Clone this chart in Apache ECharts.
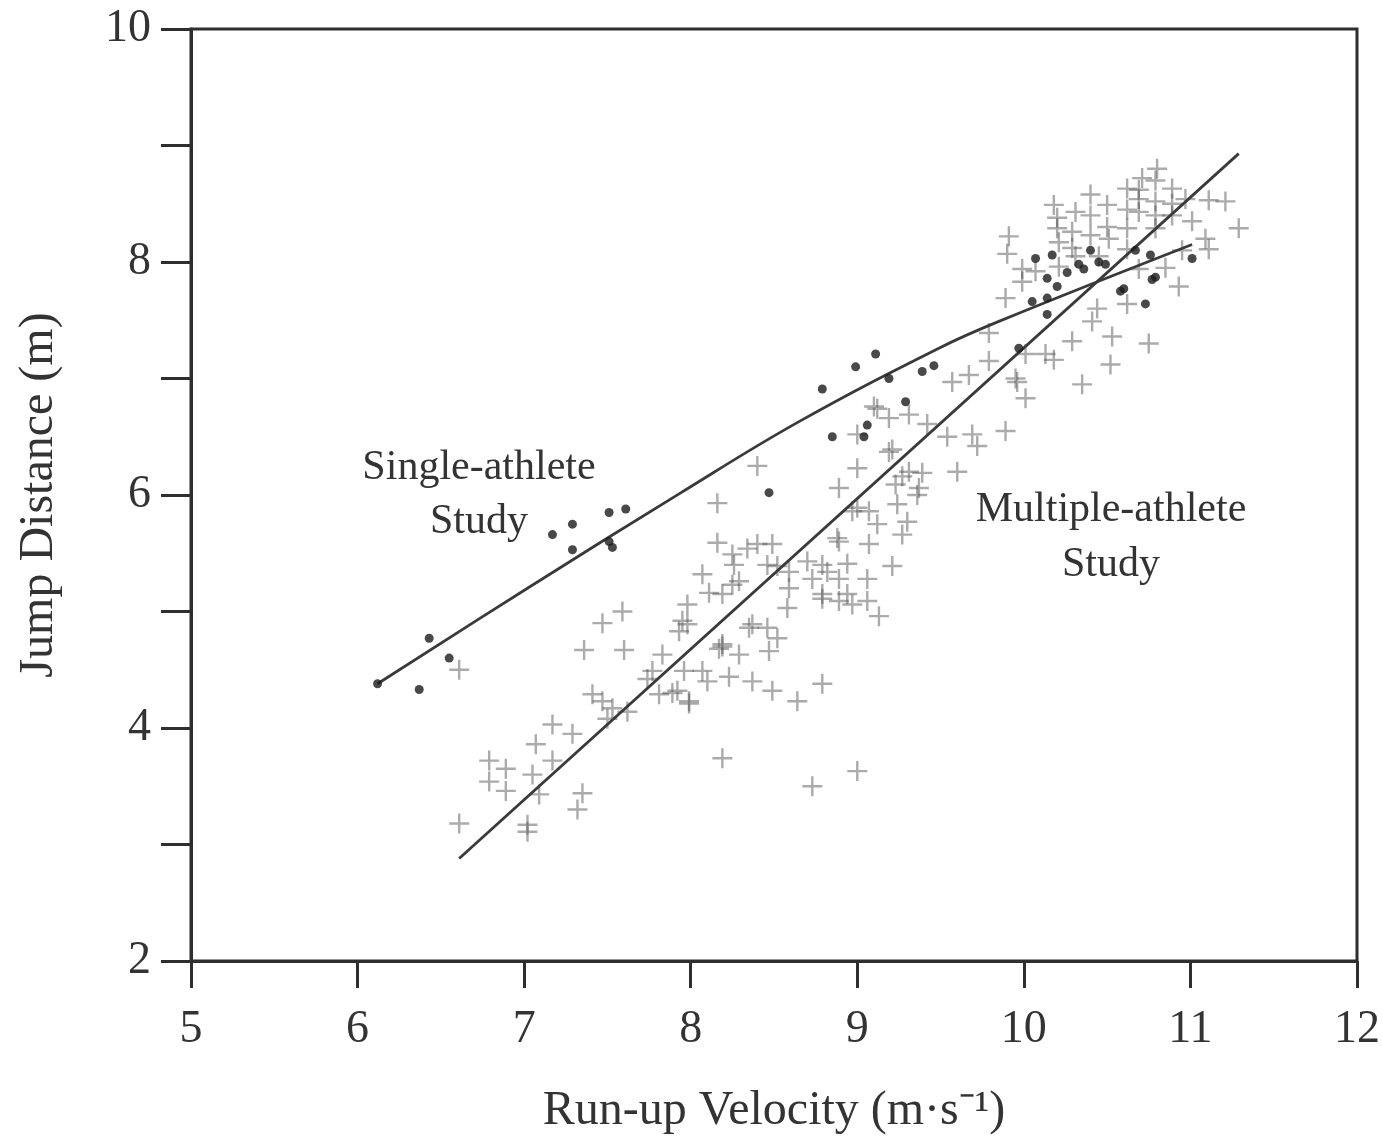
<!DOCTYPE html>
<html>
<head>
<meta charset="utf-8">
<script src="https://cdn.jsdelivr.net/npm/echarts@6/dist/echarts.min.js"></script>
<style>
  html, body { margin: 0; background: #fff; }
  #chart { width: 1383px; height: 1141px; }
</style>
</head>
<body>
<div id="chart"></div>
<script>
// single-athlete study (dots)
var singleX = [6.12, 6.37, 6.43, 6.55, 7.17, 7.29, 7.29, 7.51, 7.61, 7.51, 7.53, 8.47, 8.79, 8.99, 9.11,
  8.85, 9.04, 9.06, 9.19, 9.39, 9.46, 9.29, 9.97, 10.07, 10.17, 10.40, 10.33, 10.36, 10.45, 10.49,
  10.26, 10.14, 10.20, 10.05, 10.14, 10.14, 10.67, 10.76, 11.01, 10.77, 10.79, 10.58, 10.60, 10.73];
var singleY = [4.38, 4.33, 4.77, 4.60, 5.66, 5.75, 5.53, 5.85, 5.88, 5.60, 5.55, 6.02, 6.91, 7.10, 7.21,
  6.50, 6.50, 6.60, 7.00, 7.06, 7.11, 6.80, 7.26, 8.03, 8.06, 8.10, 7.98, 7.94, 8.00, 7.98,
  7.91, 7.86, 7.79, 7.66, 7.69, 7.55, 8.10, 8.06, 8.03, 7.85, 7.87, 7.75, 7.77, 7.64];

// multiple-athlete study (crosses)
var multiX = [6.61, 6.61, 6.79, 6.89, 6.79, 6.89, 7.05, 7.09, 7.02, 7.02, 7.07, 7.17, 7.17, 7.29, 7.35,
  7.32, 7.41, 7.47, 7.53, 7.50, 7.62, 7.36, 7.47, 7.59, 7.60, 7.74, 7.77, 7.83, 7.81, 7.89,
  7.99, 7.96, 7.93, 7.98, 7.98, 7.92, 7.99, 8.07, 8.10, 8.23, 8.19, 8.07, 8.11, 8.25, 8.19,
  8.73, 9.00,
  8.40, 8.16, 8.16, 8.40, 8.49, 8.25, 8.29, 8.19, 8.52, 8.59, 8.59, 7.95, 8.46, 8.35,
  8.52, 8.19, 8.29, 8.47, 8.17, 8.37, 8.49, 8.64, 8.79, 8.58, 8.70, 8.73, 8.79, 8.82, 8.89,
  8.89, 8.94, 8.94, 9.06, 9.06, 9.13, 9.21, 8.88, 9.07, 8.97, 9.07, 9.12, 9.27, 9.30, 9.24,
  8.89, 9.00, 9.00, 9.19, 9.10, 9.19, 9.27, 9.39, 9.37, 9.42, 9.54, 9.60, 9.31, 9.21, 9.31,
  9.23, 9.69, 9.89, 9.72, 9.57, 9.67, 9.79, 9.79, 9.96, 10.01, 10.01,
  8.34, 8.26, 8.46, 8.79, 8.89, 9.00, 8.79, 8.97, 8.37, 9.36, 9.12,
  10.80, 10.71, 10.89, 10.62, 10.40, 10.18, 10.50, 10.69, 10.79, 10.97, 11.11, 11.21, 10.31, 10.69, 10.89,
  11.01, 11.29, 9.91, 10.20, 10.29, 10.40, 10.51, 10.62, 10.79, 11.09, 11.11, 9.90, 10.21, 10.62, 9.99,
  10.07, 10.21, 9.99, 9.89, 10.93, 10.69, 10.62, 10.44, 10.41, 10.53, 10.29, 10.75, 10.13, 10.18, 10.52,
  10.35, 9.95,
  10.20, 10.29, 10.40, 10.62, 10.69, 10.79, 10.79, 10.89, 10.50, 10.31, 10.45, 10.95, 10.85];
var multiY = [4.50, 3.18, 3.72, 3.65, 3.54, 3.46, 3.60, 3.43, 3.17, 3.11, 3.86, 3.72, 4.03, 3.95, 3.44,
  3.30, 4.29, 4.23, 4.17, 4.08, 4.14, 4.67, 4.90, 5.00, 4.67, 4.42, 4.49, 4.63, 4.29, 4.30,
  4.23, 4.49, 4.83, 4.89, 5.06, 4.32, 4.21, 4.49, 4.40, 4.44, 4.70, 5.32, 5.16, 5.23, 3.74,
  3.50, 3.63,
  6.25, 5.93, 5.59, 5.58, 5.58, 5.49, 5.26, 5.15, 5.39, 5.20, 5.34, 4.92, 4.86, 4.86,
  4.77, 4.72, 4.63, 4.66, 4.68, 4.40, 4.32, 4.23, 4.38, 5.03, 5.43, 5.28, 5.15, 5.34, 5.28,
  5.09, 5.15, 5.41, 5.28, 5.09, 4.96, 5.39, 5.63, 5.58, 5.86, 5.86, 5.75, 5.66, 5.77, 5.92,
  6.06, 6.23, 6.52, 6.37, 6.76, 6.66, 6.16, 6.19, 6.06, 6.61, 6.50, 6.20, 6.69, 6.39, 6.20,
  6.09, 6.52, 6.55, 6.42, 6.97, 7.03, 7.15, 7.39, 6.97, 6.83, 7.21,
  5.54, 5.40, 5.40, 5.40, 5.60, 5.89, 5.11, 5.06, 4.89, 6.00, 6.74,
  8.80, 8.72, 8.63, 8.63, 8.58, 8.49, 8.49, 8.54, 8.52, 8.54, 8.53, 8.52, 8.43, 8.43, 8.40,
  8.35, 8.29, 8.22, 8.29, 8.26, 8.23, 8.20, 8.29, 8.29, 8.20, 8.11, 8.07, 8.17, 8.11, 7.94,
  7.92, 7.96, 7.83, 7.69, 7.79, 7.94, 7.64, 7.60, 7.49, 7.36, 7.32, 7.30, 7.21, 7.16, 7.12,
  6.95, 7.00,
  8.38, 8.12, 8.40, 8.45, 8.62, 8.70, 8.40, 8.50, 8.30, 8.05, 8.05, 8.10, 7.95];

// fitted curves (single-athlete curve bends slightly)
var singleFitX = [6.12, 7.02, 7.93, 8.65, 9.49, 9.85, 11.01];
var singleFitY = [4.38, 5.20, 6.01, 6.63, 7.26, 7.49, 8.15];
var multiFitX = [6.61, 11.29];
var multiFitY = [2.88, 8.93];

function zip(xs, ys) {
  return xs.map(function (x, i) { return [x, ys[i]]; });
}

var chart = echarts.init(document.getElementById('chart'));
var serif = 'Liberation Serif';
var ink = '#2e2e2e';
// thin "+" marker
var plus = 'path://M8.8,0 L11.2,0 L11.2,8.8 L20,8.8 L20,11.2 L11.2,11.2 L11.2,20 L8.8,20 L8.8,11.2 L0,11.2 L0,8.8 L8.8,8.8 Z';

chart.setOption({
  backgroundColor: '#fff',
  animation: false,
  grid: {
    left: 191, right: 26, top: 29, bottom: 180,
    show: true, borderColor: ink, borderWidth: 3
  },
  xAxis: {
    type: 'value', min: 5, max: 12, interval: 1,
    name: 'Run-up Velocity (m·s⁻¹)',
    nameLocation: 'middle', nameGap: 126,
    nameTextStyle: { fontFamily: serif, fontSize: 48, color: '#333' },
    splitLine: { show: false },
    axisLine: { lineStyle: { color: ink, width: 3 } },
    axisTick: { length: 27, lineStyle: { color: ink, width: 3 } },
    axisLabel: { margin: 46, fontFamily: serif, fontSize: 46, color: '#333' }
  },
  yAxis: {
    type: 'value', min: 2, max: 10, interval: 1,
    name: 'Jump Distance (m)',
    nameLocation: 'middle', nameGap: 128, nameRotate: 90,
    nameTextStyle: { fontFamily: serif, fontSize: 48, color: '#333' },
    splitLine: { show: false },
    axisLine: { lineStyle: { color: ink, width: 3 } },
    axisTick: { length: 30, lineStyle: { color: ink, width: 3 } },
    axisLabel: {
      margin: 40, fontFamily: serif, fontSize: 46, color: '#333',
      formatter: function (v) { return v % 2 === 0 ? String(v) : ''; }
    }
  },
  series: [
    {
      type: 'scatter', name: 'Multiple-athlete',
      data: zip(multiX, multiY),
      symbol: plus, symbolSize: 20,
      itemStyle: { color: 'rgba(85,85,85,0.62)' },
      z: 2
    },
    {
      type: 'line', data: zip(multiFitX, multiFitY),
      symbol: 'none', lineStyle: { color: '#3a3a3a', width: 2.8 }, z: 3
    },
    {
      type: 'line', data: zip(singleFitX, singleFitY), smooth: 0.4,
      symbol: 'none', lineStyle: { color: '#3a3a3a', width: 2.8 }, z: 3
    },
    {
      type: 'scatter', name: 'Single-athlete',
      data: zip(singleX, singleY),
      symbol: 'circle', symbolSize: 9,
      itemStyle: { color: '#1c1c1c' },
      z: 4
    }
  ],
  graphic: [
    {
      type: 'text', x: 479, y: 495, z: 10,
      style: {
        text: 'Single-athlete\nStudy', fill: '#333', font: '42px "Liberation Serif"',
        align: 'center', verticalAlign: 'middle', lineHeight: 54
      }
    },
    {
      type: 'text', x: 1111, y: 537, z: 10,
      style: {
        text: 'Multiple-athlete\nStudy', fill: '#333', font: '42px "Liberation Serif"',
        align: 'center', verticalAlign: 'middle', lineHeight: 55
      }
    }
  ]
});
</script>
</body>
</html>
